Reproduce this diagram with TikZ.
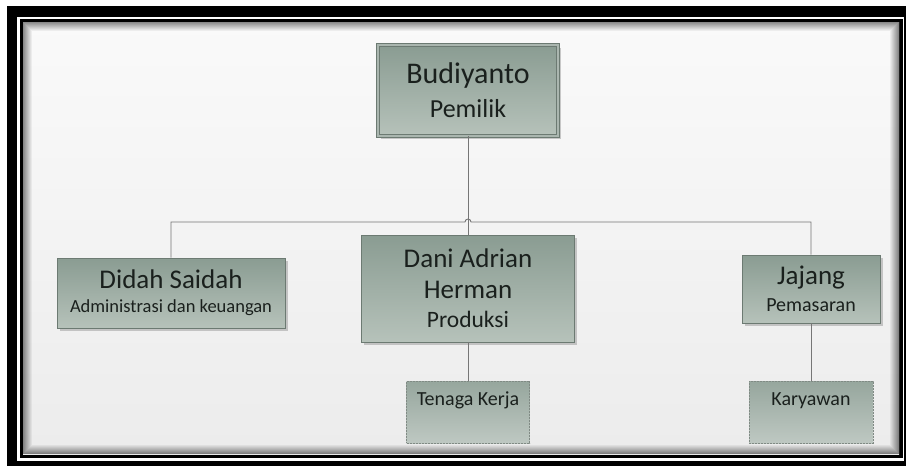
\documentclass[tikz,border=0pt]{standalone}
\usepackage{fontspec}
\setmainfont{Carlito}
\usetikzlibrary{shadows}
\definecolor{boxtop}{RGB}{138,156,146}
\definecolor{boxbot}{RGB}{182,194,186}
\definecolor{boxgap}{RGB}{170,182,175}
\definecolor{boxline}{RGB}{108,122,114}
\definecolor{dashtop}{RGB}{150,166,157}
\definecolor{dashbot}{RGB}{190,200,194}
\definecolor{dashline}{RGB}{128,138,132}
\definecolor{inktext}{RGB}{26,32,29}
\definecolor{connline}{RGB}{118,118,118}
\begin{document}
\begin{tikzpicture}[x=1pt,y=-1pt,
  orgbox/.style={draw=boxline,line width=0.8pt,top color=boxtop,bottom color=boxbot,
    drop shadow={shadow xshift=2.5pt,shadow yshift=-2.5pt,opacity=0.4},
    align=center,text=inktext,inner sep=0pt},
  staffbox/.style={draw=dashline,dash pattern=on 2pt off 1pt,line width=0.7pt,
    top color=dashtop,bottom color=dashbot,text=inktext,inner sep=0pt,
    text height=24pt,text depth=38pt,font=\fontsize{20}{24}\selectfont},
  conn/.style={draw=connline,line width=0.9pt}]
  \useasboundingbox (0,0) rectangle (906,466);
  \fill[white] (0,0) rectangle (906,466);
  \fill[black] (7,6) rectangle (906,466);
  \fill[white] (17,17) rectangle (904,461);
  \fill[black] (20,19) rectangle (903,458);
  \shade[top color=gray!4,bottom color=gray!15] (23,22) rectangle (899,454);
  \foreach \d [evaluate=\d as \op using 0.45*(1-\d/9)] in {0,...,8}
    \draw[black,opacity=\op,line width=1.1pt] (23.5+\d,22.5+\d) rectangle (898.5-\d,453.5-\d);

  \node[orgbox,double=boxgap,double distance=1.5pt,minimum width=180pt,minimum height=91pt,
    font=\fontsize{30}{34}\selectfont] (bud) at (468,90.5) {Budiyanto\\{\fontsize{26}{28}\selectfont Pemilik}};
  \node[orgbox,minimum width=228pt,minimum height=70pt,font=\fontsize{27}{24}\selectfont]
    (did) at (171,293) {Didah Saidah\\{\fontsize{18.5}{22}\selectfont Administrasi dan keuangan}};
  \node[orgbox,minimum width=213pt,minimum height=107pt,font=\fontsize{27}{31}\selectfont]
    (dan) at (468,288.5) {Dani Adrian\\Herman\\[-2pt]{\fontsize{23.5}{26}\selectfont Produksi}};
  \node[orgbox,minimum width=138pt,minimum height=68pt,font=\fontsize{27}{27}\selectfont]
    (jaj) at (811,289) {Jajang\\{\fontsize{20}{24}\selectfont Pemasaran}};
  \node[staffbox,minimum width=123pt,minimum height=62pt] (ten) at (468,412) {Tenaga Kerja};
  \node[staffbox,minimum width=124pt,minimum height=62pt] (kar) at (811,412) {Karyawan};

  \coordinate (hub) at (468,222);
  \draw[conn] (bud.south) -- (dan.north);
  \draw[conn] (did.north) |- ([xshift=-3pt]hub) arc[start angle=180,end angle=0,radius=3pt] -| (jaj.north);
  \draw[conn] (dan.south) -- (ten.north);
  \draw[conn] (jaj.south) -- (kar.north);
\end{tikzpicture}
\end{document}
